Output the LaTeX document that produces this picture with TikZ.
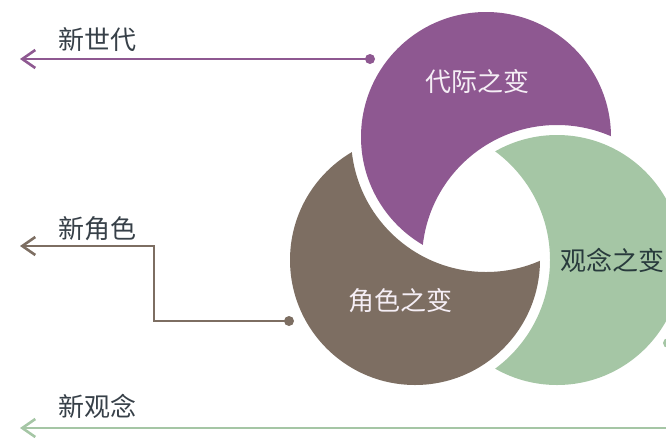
\documentclass[tikz,border=0pt]{standalone}
\usepackage{fontspec}
\setmainfont{Noto Sans CJK SC}
\usetikzlibrary{arrows.meta}
\definecolor{cpurp}{RGB}{142,88,145}
\definecolor{cbrown}{RGB}{125,110,98}
\definecolor{cgreen}{RGB}{165,198,165}
\definecolor{ctext}{RGB}{55,64,72}
\definecolor{cdark}{RGB}{40,58,60}
\definecolor{clight}{RGB}{245,238,245}
\tikzset{
  bigtxt/.style={font=\fontsize{26}{30}\selectfont},
  sidetxt/.style={font=\fontsize{26}{30}\selectfont, text=ctext},
  dotnode/.style={circle, fill=#1, inner sep=0pt, minimum size=10pt},
  conn/.style={line width=2.6pt, draw=#1, {Straight Barb[length=13pt,width=18pt]}-},
}
\begin{document}
\begin{tikzpicture}[x=1pt,y=-1pt]
\useasboundingbox (0,0) rectangle (666,437);
\clip (0,0) rectangle (666,437);
\coordinate (P) at (486,137);
\coordinate (B) at (415,260);
\coordinate (G) at (557,260);
% purple crescent (bitten by green)
\begin{scope}
  \clip (P) circle (125pt);
  \fill[cpurp, even odd rule] (P) circle (132pt) (G) circle (135pt);
\end{scope}
% green crescent (bitten by brown)
\begin{scope}
  \clip (G) circle (125pt);
  \fill[cgreen, even odd rule] (G) circle (132pt) (B) circle (135pt);
\end{scope}
% brown crescent (bitten by purple)
\begin{scope}
  \clip (B) circle (125pt);
  \fill[cbrown, even odd rule] (B) circle (132pt) (P) circle (135pt);
\end{scope}
\node[bigtxt, text=clight] (tp) at (477,82) {代际之变};
\node[bigtxt, text=clight] (tb) at (400,301) {角色之变};
\node[bigtxt, text=cdark] (tg) at (612,260) {观念之变};
% connectors
\node[dotnode=cpurp] (d1) at (370,59) {};
\coordinate (a1) at (20,59);
\draw[conn=cpurp] (a1) -- (d1.center);
\node[sidetxt] (l1) at (97,40) {新世代};
\node[dotnode=cbrown] (d2) at (289,321) {};
\coordinate (a2) at (20,246);
\coordinate (k1) at (154,246);
\coordinate (k2) at (154,321);
\draw[conn=cbrown] (a2) -- (k1) -- (k2) -- (d2.center);
\node[sidetxt] (l2) at (97,229) {新角色};
\node[dotnode=cgreen] (d3) at (668,343) {};
\coordinate (a3) at (20,428);
\coordinate (e3) at (680,428);
\draw[conn=cgreen] (a3) -- (e3);
\node[sidetxt] (l3) at (97,406) {新观念};
\end{tikzpicture}
\end{document}
